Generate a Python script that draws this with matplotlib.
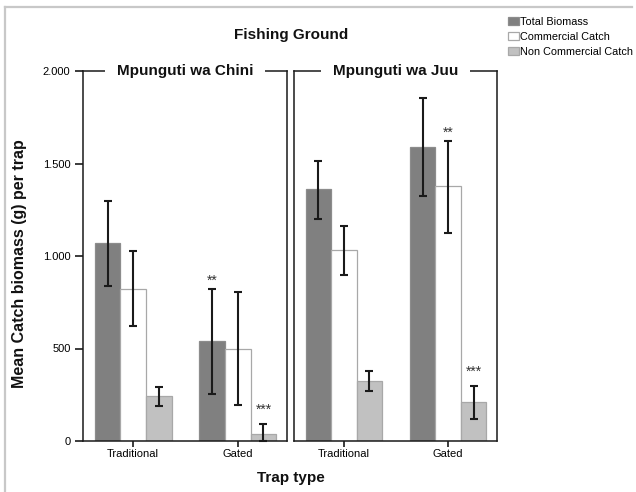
import numpy as np
import matplotlib
matplotlib.use("Agg")
import matplotlib.pyplot as plt
from matplotlib.patches import Patch
from matplotlib.ticker import FixedLocator, FuncFormatter
from matplotlib.lines import Line2D

plt.rcParams['font.family'] = ['Liberation Sans', 'DejaVu Sans']

# ---- data -------------------------------------------------------------
grounds = ["Mpunguti wa Chini", "Mpunguti wa Juu"]
trap_types = ["Traditional", "Gated"]
series = ["Total Biomass", "Commercial Catch", "Non Commercial Catch"]

# mean catch biomass (g) per trap: [ground][series][trap type]
means = {
    "Mpunguti wa Chini": [[1070, 543], [824, 500], [244, 40]],
    "Mpunguti wa Juu":   [[1362, 1589], [1033, 1376], [326, 211]],
}
# 95% CI lower / upper bounds
ci_low = {
    "Mpunguti wa Chini": [[840, 255], [622, 195], [191, 0]],
    "Mpunguti wa Juu":   [[1200, 1324], [900, 1126], [272, 119]],
}
ci_high = {
    "Mpunguti wa Chini": [[1298, 822], [1029, 806], [293, 94]],
    "Mpunguti wa Juu":   [[1515, 1854], [1162, 1622], [378, 297]],
}
# significance markers: (ground, series index, trap index, label)
stars = [
    ("Mpunguti wa Chini", 0, 1, "**"),
    ("Mpunguti wa Chini", 2, 1, "***"),
    ("Mpunguti wa Juu", 1, 1, "**"),
    ("Mpunguti wa Juu", 2, 1, "***"),
]
y_ticks = [0, 500, 1000, 1500, 2000]

# ---- style ------------------------------------------------------------
face = ["#808080", "#ffffff", "#c1c1c1"]
edge = ["#8c8c8c", "#a8a8a8", "#a8a8a8"]
ink = "#1a1a1a"

W, H = 636, 492
fig = plt.figure(figsize=(W / 100, H / 100), dpi=100)

# light frame around the figure (top and left edges)
fig.add_artist(Line2D([5 / W, 632 / W], [1 - 7 / H, 1 - 7 / H],
                      color="#c8c8c8", lw=1.6, transform=fig.transFigure))
fig.add_artist(Line2D([5 / W, 5 / W], [0, 1 - 7 / H],
                      color="#c8c8c8", lw=1.6, transform=fig.transFigure))

panels = [(83, 204), (294, 203)]
ax_bottom, ax_top = 441, 71
bw = 0.245
offsets = [-bw, 0.0, bw]

def thousands(v, pos):
    return f"{int(v):,}".replace(",", ".")

axes = []
for (px, pw), g in zip(panels, grounds):
    ax = fig.add_axes([px / W, 1 - ax_bottom / H, pw / W, (ax_bottom - ax_top) / H])
    axes.append(ax)
    x = np.arange(len(trap_types))
    for s in range(len(series)):
        m = np.array(means[g][s], dtype=float)
        lo = np.array(ci_low[g][s], dtype=float)
        hi = np.array(ci_high[g][s], dtype=float)
        ax.bar(x + offsets[s], m, width=bw, color=face[s], edgecolor=edge[s],
               linewidth=0.9, zorder=2)
        ax.errorbar(x + offsets[s], m, yerr=[m - lo, hi - m], fmt="none",
                    ecolor=ink, elinewidth=1.5, capsize=2.6, capthick=1.5,
                    zorder=3, clip_on=False)
    for gg, s, t, lab in stars:
        if gg != g:
            continue
        off = 6 if len(lab) == 2 else 10
        ax.annotate(lab, (t + offsets[s], ci_high[g][s][t]),
                    xytext=(0, off), textcoords="offset points",
                    ha="center", va="center", fontsize=10, color="#333333")

    ax.set_xlim(-0.48, 1.47)
    ax.set_ylim(0, 2000)
    ax.set_xticks(x)
    ax.set_xticklabels(trap_types, fontsize=8)
    ax.tick_params(axis="x", length=4, width=1.2, color=ink, pad=2)
    for sp in ax.spines.values():
        sp.set_linewidth(1.1)
        sp.set_color(ink)
    # panel title sits in a gap of the top frame line
    ax.text(0.5, 1.0, g, transform=ax.transAxes, ha="center", va="center",
            fontsize=11, fontweight="bold", color="#111111", zorder=5,
            bbox=dict(boxstyle="square,pad=0.8", fc="white", ec="none"))
    ax.set_facecolor("white")

axes[0].yaxis.set_major_locator(FixedLocator(y_ticks))
axes[0].yaxis.set_major_formatter(FuncFormatter(thousands))
axes[0].tick_params(axis="y", length=6, width=1.2, color=ink, labelsize=8, pad=3)
axes[1].set_yticks([])

fig.text(291 / W, 1 - 35 / H, "Fishing Ground", ha="center", va="center",
         fontsize=11, fontweight="bold", color="#111111")
fig.text(291 / W, 1 - 478 / H, "Trap type", ha="center", va="center",
         fontsize=11, fontweight="bold", color="#111111")
fig.text(20 / W, 1 - 264 / H, "Mean Catch biomass (g) per trap", ha="center",
         va="center", rotation=90, fontsize=11.5, fontweight="bold", color="#111111")

handles = [Patch(facecolor=face[i], edgecolor=edge[i], linewidth=0.9) for i in range(3)]
fig.legend(handles, series, loc="upper left",
           bbox_to_anchor=(508 / W, 1 - 17 / H), frameon=False, fontsize=7.8,
           handlelength=1.0, handleheight=0.8, handletextpad=0.15,
           labelspacing=0.45, borderpad=0, borderaxespad=0)

fig.savefig("out.png", dpi=100, facecolor="white")
